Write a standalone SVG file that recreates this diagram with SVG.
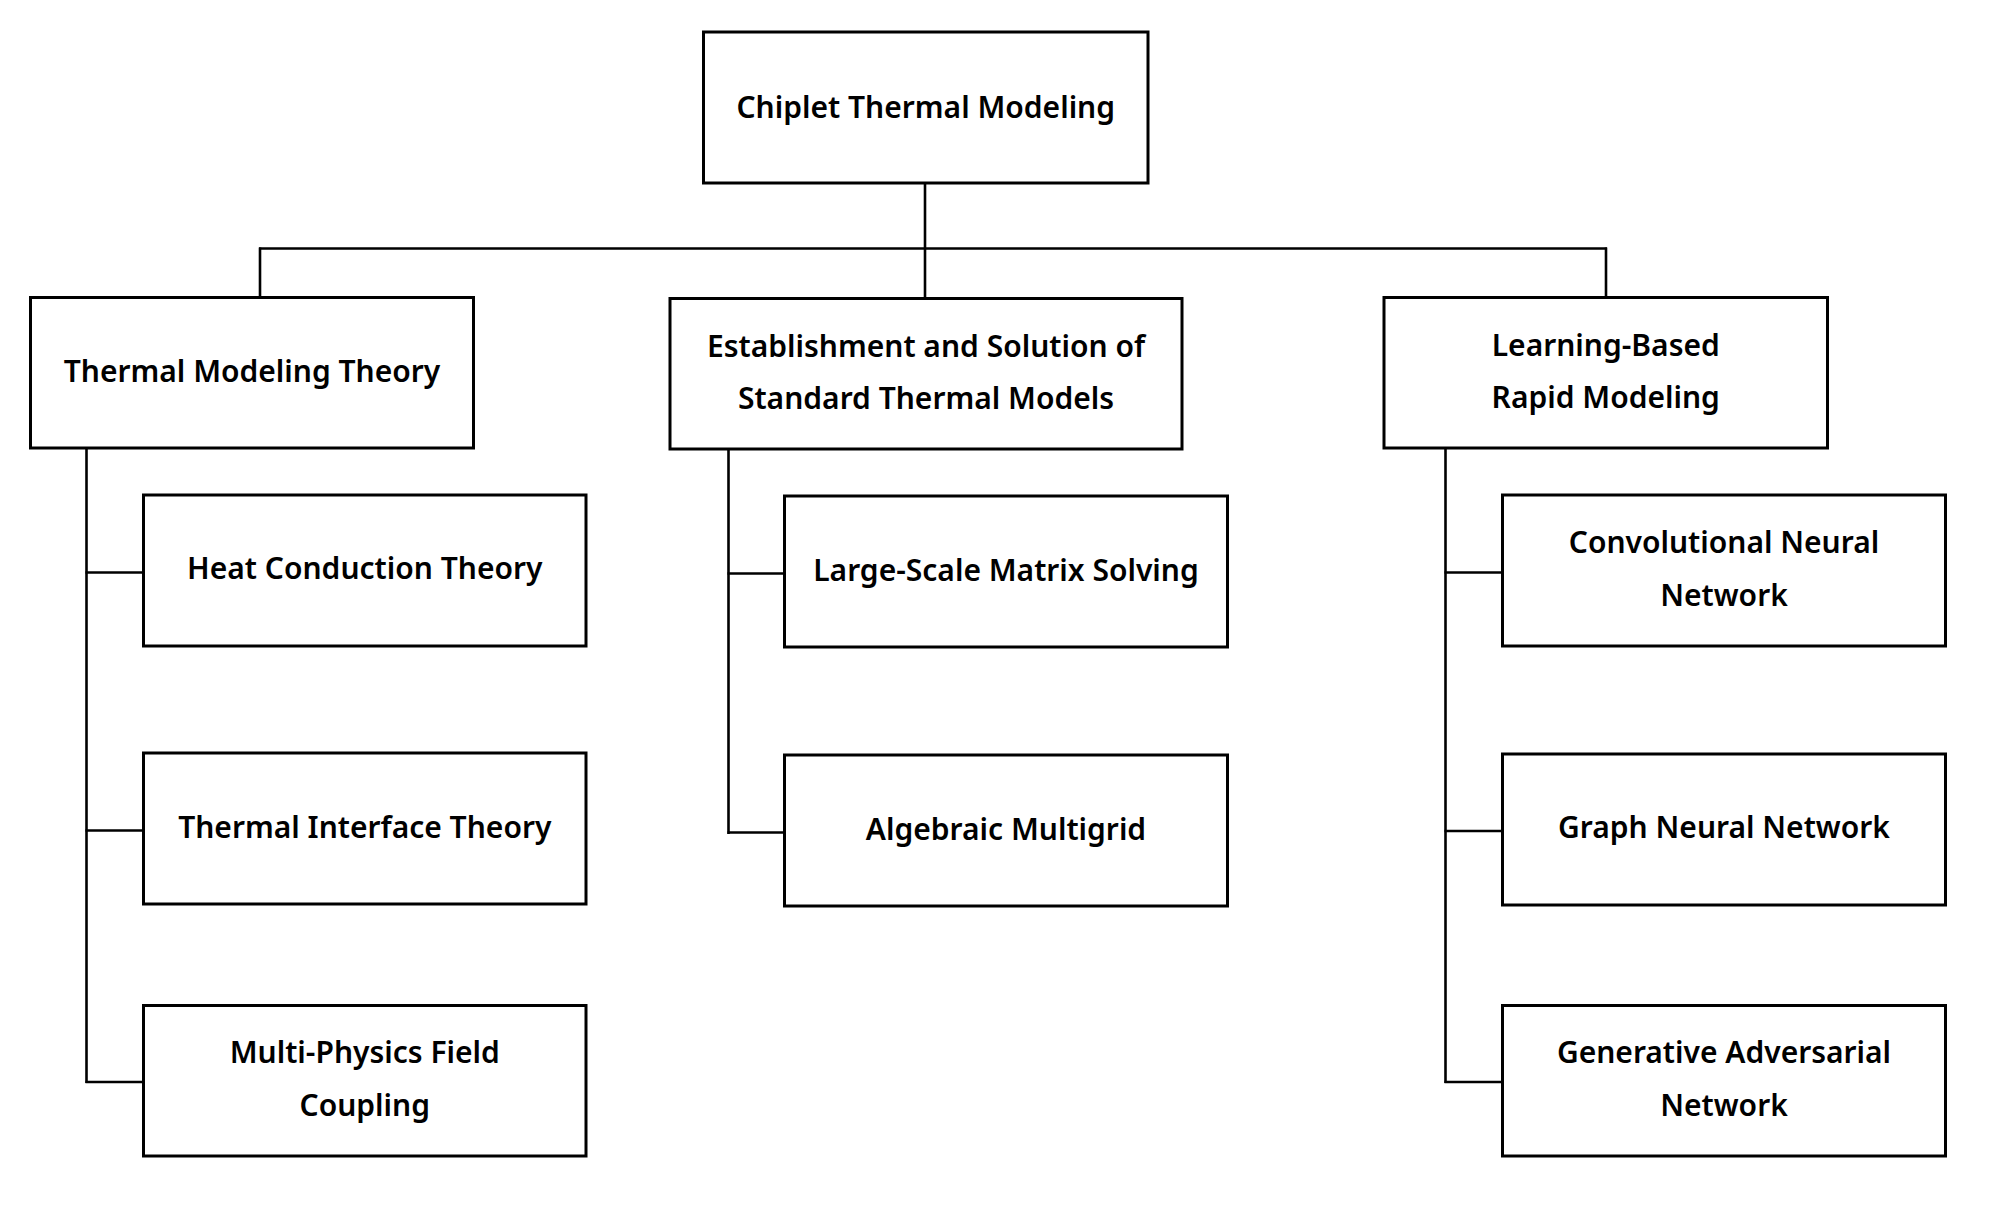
<svg xmlns="http://www.w3.org/2000/svg" width="1993" height="1206" viewBox="0 0 1993 1206">
<style>
  .box { fill: #ffffff; stroke: #000000; stroke-width: 3; }
  .lbl { font-family: "Noto Sans", "Open Sans", "Liberation Sans", sans-serif; font-size: 30px; font-weight: 600; fill: #000000; text-anchor: middle; }
  .conn line { stroke: #000000; stroke-width: 2.6; fill: none; }
</style>
<rect x="0" y="0" width="1993" height="1206" fill="#ffffff"/>
<g id="connectors" class="conn">
  <line x1="925" y1="183" x2="925" y2="298.5"/>
  <line x1="259" y1="248.5" x2="1607" y2="248.5"/>
  <line x1="260" y1="247.5" x2="260" y2="297.5"/>
  <line x1="1606" y1="247.5" x2="1606" y2="297.5"/>
  <line x1="86.5" y1="448" x2="86.5" y2="1083"/>
  <line x1="85.5" y1="572.5" x2="143.5" y2="572.5"/>
  <line x1="85.5" y1="830.5" x2="143.5" y2="830.5"/>
  <line x1="85.5" y1="1082" x2="143.5" y2="1082"/>
  <line x1="728.5" y1="449" x2="728.5" y2="834"/>
  <line x1="727.5" y1="573.5" x2="784.5" y2="573.5"/>
  <line x1="727.5" y1="832.5" x2="784.5" y2="832.5"/>
  <line x1="1445.5" y1="448" x2="1445.5" y2="1083"/>
  <line x1="1444.5" y1="572.5" x2="1502.5" y2="572.5"/>
  <line x1="1444.5" y1="831" x2="1502.5" y2="831"/>
  <line x1="1444.5" y1="1082" x2="1502.5" y2="1082"/>
</g>
<g id="root">
  <rect class="box" x="703.5" y="32" width="444.5" height="151"/>
  <text class="lbl" x="925.75" y="118">Chiplet Thermal Modeling</text>
</g>
<g id="theory">
  <rect class="box" x="30.5" y="297.5" width="443" height="150.5"/>
  <text class="lbl" x="252" y="382">Thermal Modeling Theory</text>
</g>
<g id="standard">
  <rect class="box" x="670" y="298.5" width="512" height="150.5"/>
  <text class="lbl" x="926" y="357">Establishment and Solution of</text>
  <text class="lbl" x="926" y="409">Standard Thermal Models</text>
</g>
<g id="learning">
  <rect class="box" x="1384" y="297.5" width="443.5" height="150.5"/>
  <text class="lbl" x="1605.75" y="356">Learning-Based</text>
  <text class="lbl" x="1605.75" y="408">Rapid Modeling</text>
</g>
<g id="heat">
  <rect class="box" x="143.5" y="495" width="442.5" height="151"/>
  <text class="lbl" x="364.75" y="579">Heat Conduction Theory</text>
</g>
<g id="interface">
  <rect class="box" x="143.5" y="753" width="442.5" height="151"/>
  <text class="lbl" x="364.75" y="838">Thermal Interface Theory</text>
</g>
<g id="multiphysics">
  <rect class="box" x="143.5" y="1005.5" width="442.5" height="150.5"/>
  <text class="lbl" x="364.75" y="1063">Multi-Physics Field</text>
  <text class="lbl" x="364.75" y="1116">Coupling</text>
</g>
<g id="matrix">
  <rect class="box" x="784.5" y="496" width="443" height="151"/>
  <text class="lbl" x="1006" y="581">Large-Scale Matrix Solving</text>
</g>
<g id="amg">
  <rect class="box" x="784.5" y="755" width="443" height="151"/>
  <text class="lbl" x="1006" y="840">Algebraic Multigrid</text>
</g>
<g id="cnn">
  <rect class="box" x="1502.5" y="495" width="443" height="151"/>
  <text class="lbl" x="1724" y="553">Convolutional Neural</text>
  <text class="lbl" x="1724" y="606">Network</text>
</g>
<g id="gnn">
  <rect class="box" x="1502.5" y="754" width="443" height="151"/>
  <text class="lbl" x="1724" y="838">Graph Neural Network</text>
</g>
<g id="gan">
  <rect class="box" x="1502.5" y="1005.5" width="443" height="150.5"/>
  <text class="lbl" x="1724" y="1063">Generative Adversarial</text>
  <text class="lbl" x="1724" y="1116">Network</text>
</g>
</svg>
